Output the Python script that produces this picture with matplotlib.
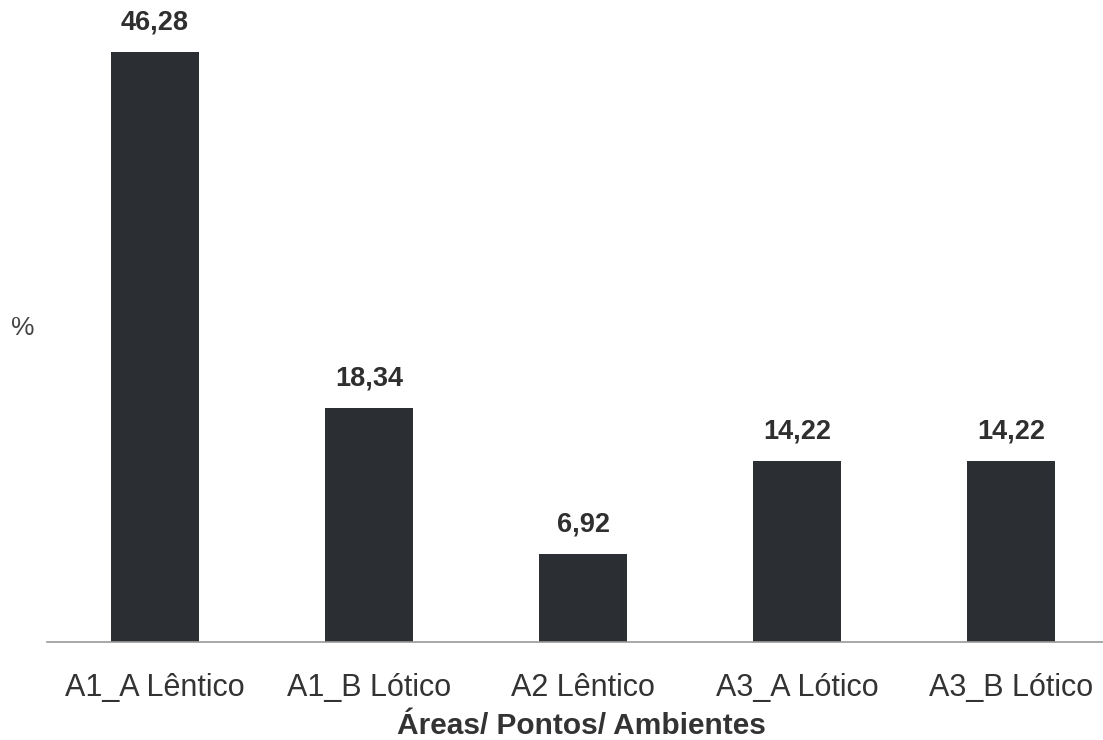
import matplotlib.pyplot as plt
import numpy as np

plt.rcParams['font.family'] = ['Liberation Sans', 'DejaVu Sans']

ambientes = ['A1_A Lêntico', 'A1_B Lótico', 'A2 Lêntico', 'A3_A Lótico', 'A3_B Lótico']
percentuais = [46.28, 18.34, 6.92, 14.22, 14.22]
rotulos = ['46,28', '18,34', '6,92', '14,22', '14,22']

fig = plt.figure(figsize=(11.03, 7.4), dpi=100)
ax = fig.add_axes([0.0426, 0.1324, 0.9574, 0.8676])

x = np.arange(len(ambientes))
bars = ax.bar(x, percentuais, width=0.41, color='#2b2f34')

# value labels above each bar
for b, txt in zip(bars, rotulos):
    ax.annotate(txt, (b.get_x() + b.get_width() / 2, b.get_height()),
                xytext=(0, 12), textcoords='offset points',
                ha='center', va='bottom', fontsize=19.5, fontweight='bold',
                color='#2f2f2f')

ax.set_xlim(-0.505, 4.43)
ax.set_ylim(0, 50.35)
ax.set_xticks(x)
ax.set_xticklabels(ambientes, fontsize=22, color='#333333')
ax.tick_params(axis='x', length=0, pad=22)
ax.set_yticks([])

for s in ['top', 'right', 'left']:
    ax.spines[s].set_visible(False)
ax.spines['bottom'].set_color('#9a9a9a')
ax.spines['bottom'].set_linewidth(1.2)

ax.set_xlabel('Áreas/ Pontos/ Ambientes', fontsize=21.5, fontweight='bold',
              color='#333333')
ax.xaxis.set_label_coords(0.506, -0.109)

fig.text(0.021, 0.557, '%', fontsize=19, color='#444444', ha='center', va='center')

fig.savefig('out.png', dpi=100)
